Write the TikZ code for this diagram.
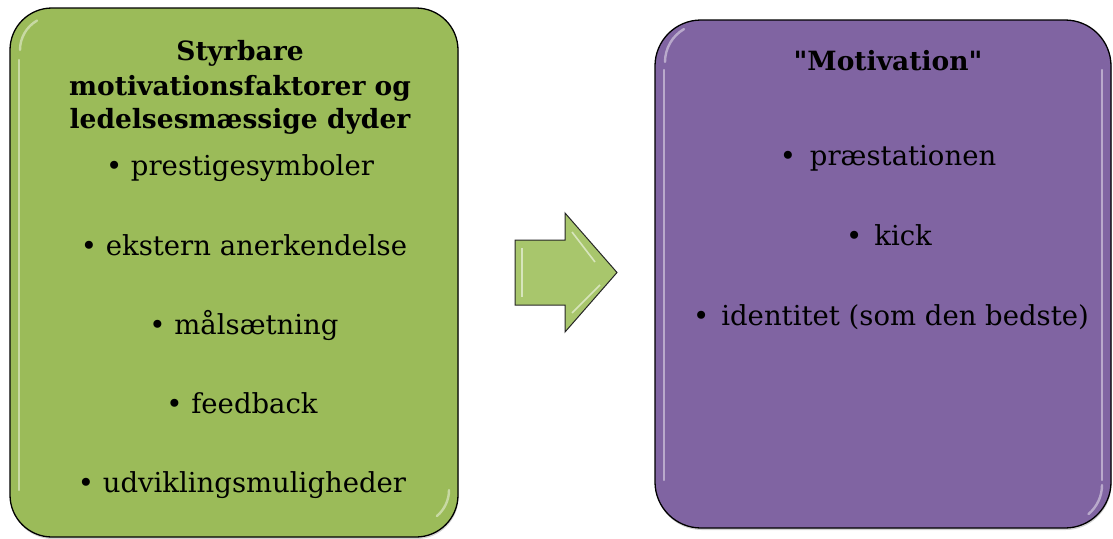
\documentclass[tikz,border=0pt]{standalone}
\usepackage{fontspec}
\setmainfont[Ligatures=TeXOff]{DejaVu Serif}
\usetikzlibrary{shadows}
\definecolor{boxgreen}{RGB}{155,187,89}
\definecolor{arrowgreen}{RGB}{168,198,108}
\definecolor{boxpurple}{RGB}{128,100,162}
\tikzset{
  panel/.style={draw=black, line width=1.3pt, fill=#1,
    drop shadow={shadow xshift=0.6pt, shadow yshift=-2pt, opacity=0.35}},
  gloss/.style={draw=white, line width=2.4pt, opacity=0.45, line cap=round},
  heading/.style={anchor=base, font=\bfseries\fontsize{26.5}{31}\selectfont},
  item/.style={anchor=base, font=\fontsize{27.5}{32}\selectfont},
}
\begin{document}
\begin{tikzpicture}[x=1pt,y=-1pt]
\useasboundingbox (0,0) rectangle (1113,538);

% left panel
\path[panel=boxgreen, rounded corners=42pt] (10,8) rectangle (458,537);
\draw[gloss] (19,60) -- (19,490);
\draw[gloss] (20,50) arc[start angle=180, end angle=120, radius=34pt];
\draw[gloss] (449,490) arc[start angle=0, end angle=-50, radius=34pt];
\node[heading] (t1) at (240,60) {Styrbare};
\node[heading] (t2) at (240,95) {motivationsfaktorer og};
\node[heading] (t3) at (240,128) {ledelsesmæssige dyder};
\node[item] (l1) at (240,175) {\textbullet\ prestigesymboler};
\node[item] (l2) at (244,255) {\textbullet\ ekstern anerkendelse};
\node[item] (l3) at (244,334) {\textbullet\ målsætning};
\node[item] (l4) at (242,413) {\textbullet\ feedback};
\node[item] (l5) at (242,492) {\textbullet\ udviklingsmuligheder};

% arrow between the panels
\path[draw=black!85, line width=1pt, fill=arrowgreen]
  (515,240) -- (565,240) -- (565,213) -- (617,272.5) -- (565,332)
  -- (565,305) -- (515,305) -- cycle;
\draw[white, opacity=0.55, line width=1.6pt] (522,248) -- (522,297);
\draw[white, opacity=0.55, line width=1.6pt] (572,232) -- (595,262);
\draw[white, opacity=0.55, line width=1.6pt] (572,313) -- (600,285);

% right panel
\path[panel=boxpurple, rounded corners=46pt] (655,20) rectangle (1111,528);
\draw[gloss] (664,70) -- (664,480);
\draw[gloss] (1102,70) -- (1102,480);
\draw[gloss] (665,62) arc[start angle=180, end angle=120, radius=38pt];
\draw[gloss] (1102,485) arc[start angle=0, end angle=-50, radius=38pt];
\node[heading] (m0) at (888,70) {"Motivation"};
\node[item] (r1) at (888,165) {\textbullet\hspace{14pt}præstationen};
\node[item] (r2) at (889,245) {\textbullet\hspace{12pt}kick};
\node[item] (r3) at (891,325) {\textbullet\hspace{12pt}identitet (som den bedste)};
\end{tikzpicture}
\end{document}
